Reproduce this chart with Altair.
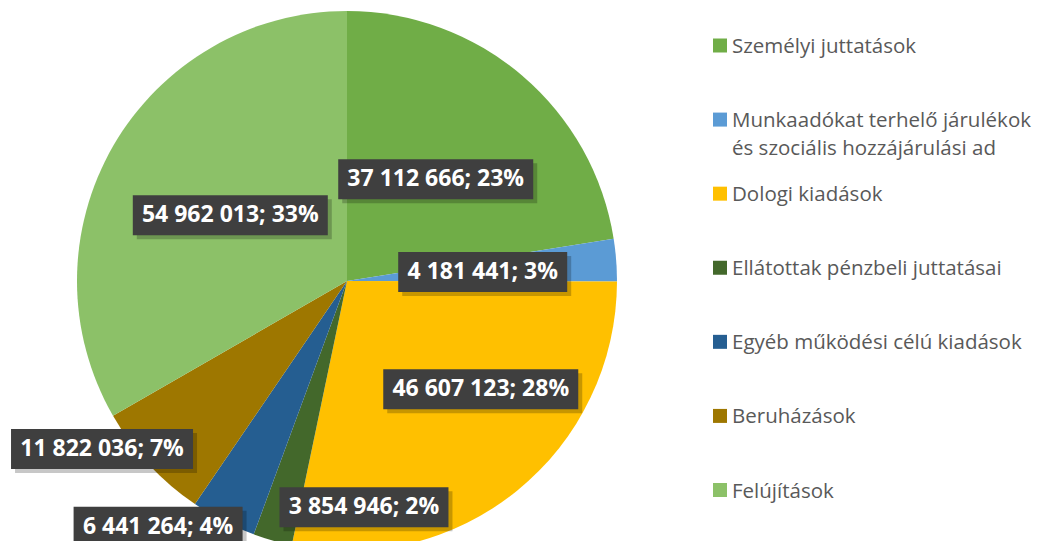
import altair as alt
import pandas as pd

# ---- data ----
categories = [
    "Személyi juttatások",
    "Munkaadókat terhelő járulékok és szociális hozzájárulási ad",
    "Dologi kiadások",
    "Ellátottak pénzbeli juttatásai",
    "Egyéb működési célú kiadások",
    "Beruházások",
    "Felújítások",
]
legend_text = [
    "Személyi juttatások",
    "Munkaadókat terhelő járulékok\nés szociális hozzájárulási ad",
    "Dologi kiadások",
    "Ellátottak pénzbeli juttatásai",
    "Egyéb működési célú kiadások",
    "Beruházások",
    "Felújítások",
]
values = [37112666, 4181441, 46607123, 3854946, 6441264, 11822036, 54962013]
percents = [23, 3, 28, 2, 4, 7, 33]

# ---- styling / layout ----
colors = ["#70AD47", "#5B9BD5", "#FFC000", "#43682B", "#255E91", "#9E7700", "#8CC168"]
label_radius = [135, 136, 172, 227, 310, 297, 134]      # px from centre
label_shift = [0.6, 0.7, -12.0, -20.3, 10.3, 8.4, -0.6]  # deg from slice middle
CX, CY, R = 339, 273, 270

def fmt(v):
    return f"{v:,}".replace(",", " ")

df = pd.DataFrame({
    "cat": categories,
    "value": values,
    "idx": list(range(len(values))),
    "label": [f"{fmt(v)}; {p}%" for v, p in zip(values, percents)],
    "legend": legend_text,
    "lr": label_radius,
    "shift": label_shift,
})

color_scale = alt.Scale(domain=categories, range=colors)
base = alt.Chart(df)

pie = base.mark_arc(outerRadius=R).encode(
    theta=alt.Theta("value:Q", stack=True),
    color=alt.Color("cat:N", scale=color_scale, legend=None),
    order=alt.Order("idx:Q"),
    x=alt.value(CX),
    y=alt.value(CY),
)

lab = base.transform_joinaggregate(total="sum(value)").transform_window(
    cum="sum(value)", sort=[alt.SortField("idx")], frame=[None, 0]
).transform_calculate(
    ang="(datum.cum - datum.value/2)/datum.total*2*PI + datum.shift*PI/180",
).transform_calculate(
    lx=f"{CX} + datum.lr*sin(datum.ang)",
    ly=f"{CY} - datum.lr*cos(datum.ang)",
).transform_calculate(
    hw="length(datum.label)*6.5",
).transform_calculate(
    bx1="datum.lx - datum.hw", bx2="datum.lx + datum.hw",
    by1="datum.ly - 20", by2="datum.ly + 20",
    sx1="datum.lx - datum.hw + 4", sx2="datum.lx + datum.hw + 4",
    sy1="datum.ly - 20 + 4", sy2="datum.ly + 20 + 4",
)

shadow = lab.mark_rect(color="#000000", opacity=0.22).encode(
    x=alt.X("sx1:Q", scale=None, axis=None), x2="sx2:Q",
    y=alt.Y("sy1:Q", scale=None, axis=None), y2="sy2:Q",
)
box = lab.mark_rect(color="#3F3F3F").encode(
    x=alt.X("bx1:Q", scale=None, axis=None), x2="bx2:Q",
    y=alt.Y("by1:Q", scale=None, axis=None), y2="by2:Q",
)
txt = lab.mark_text(
    font="Open Sans", fontWeight="bold", fontSize=23, color="white",
    align="center", baseline="middle",
).encode(
    x=alt.X("lx:Q", scale=None, axis=None),
    y=alt.Y("ly:Q", scale=None, axis=None),
    text="label:N",
)

ly_scale = alt.Scale(domain=[0, 6], range=[37.5, 482])
leg_sq = base.mark_square(size=196, opacity=1).encode(
    x=alt.value(712),
    y=alt.Y("idx:Q", scale=ly_scale, axis=None),
    color=alt.Color("cat:N", scale=color_scale, legend=None),
)
leg_txt = base.mark_text(
    font="Open Sans", fontSize=20.5, color="#595959", align="left",
    baseline="alphabetic", dy=7.5, lineBreak="\n", lineHeight=28,
).encode(
    x=alt.value(724),
    y=alt.Y("idx:Q", scale=ly_scale, axis=None),
    text="legend:N",
)

chart = alt.layer(pie, shadow, box, txt, leg_sq, leg_txt).resolve_scale(
    x="independent", y="independent"
).properties(
    width=1027, height=533, padding=0, autosize="none",
).configure_view(stroke=None)

chart.save("out.html", embed_options={"renderer": "svg", "actions": False})
